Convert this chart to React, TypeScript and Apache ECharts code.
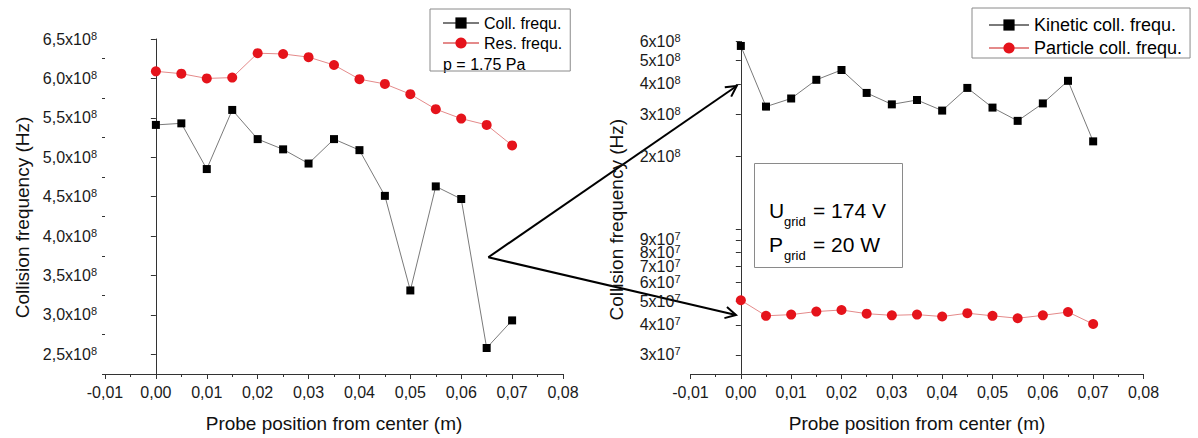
import React, { useEffect, useRef } from "react";
import * as echarts from "echarts";

const FONT = "'Liberation Sans', Arial, Helvetica, sans-serif";

// Probe positions (m)
const positions = [0, 0.005, 0.01, 0.015, 0.02, 0.025, 0.03, 0.035, 0.04, 0.045, 0.05, 0.055, 0.06, 0.065, 0.07];

// Left panel (Hz)
const collFreq = [5.41e8, 5.43e8, 4.85e8, 5.6e8, 5.23e8, 5.1e8, 4.92e8, 5.23e8, 5.09e8, 4.51e8, 3.31e8, 4.63e8, 4.47e8, 2.58e8, 2.93e8];
const resFreq = [6.09e8, 6.06e8, 6.0e8, 6.01e8, 6.32e8, 6.31e8, 6.27e8, 6.17e8, 5.99e8, 5.93e8, 5.8e8, 5.61e8, 5.49e8, 5.41e8, 5.15e8];

// Right panel (Hz, log scale)
const kineticFreq = [5.75e8, 3.22e8, 3.48e8, 4.16e8, 4.57e8, 3.67e8, 3.29e8, 3.43e8, 3.1e8, 3.85e8, 3.19e8, 2.81e8, 3.32e8, 4.12e8, 2.31e8];
const particleFreq = [5.06e7, 4.36e7, 4.41e7, 4.54e7, 4.61e7, 4.45e7, 4.38e7, 4.41e7, 4.33e7, 4.47e7, 4.36e7, 4.26e7, 4.38e7, 4.52e7, 4.03e7];

// Tick values
const leftYTicks = [2.5e8, 3.0e8, 3.5e8, 4.0e8, 4.5e8, 5.0e8, 5.5e8, 6.0e8, 6.5e8];
const leftYMinorTicks = [2.25e8, 2.75e8, 3.25e8, 3.75e8, 4.25e8, 4.75e8, 5.25e8, 5.75e8, 6.25e8];
const rightYTicks = [3e7, 4e7, 5e7, 6e7, 7e7, 8e7, 9e7, 1e8, 2e8, 3e8, 4e8, 5e8, 6e8];
const rightYLabelTicks = [3e7, 4e7, 5e7, 6e7, 7e7, 8e7, 9e7, 2e8, 3e8, 4e8, 5e8, 6e8];

const LEFT_MIN = 2.25e8;
const LEFT_MAX = 6.5e8;
const RIGHT_MIN = 2.5e7;
const RIGHT_MAX = 6e8;

const AXIS_COLOR = "#333";
const LABEL_COLOR = "#1a1a1a";

function xFormatter(v: number) {
  const r = Math.round(v * 100) / 100;
  return (r === 0 ? 0 : r).toFixed(2).replace(".", ",");
}

function leftYFormatter(v: number) {
  const m = (v / 1e8).toFixed(1).replace(".", ",");
  return `{m|${m}x10}{s|8}`;
}

function rightYFormatter(lv: number) {
  const exp = Math.floor(lv + 1e-9);
  const mant = Math.round(Math.pow(10, lv - exp));
  return `{m|${mant}x10}{s|${exp}}`;
}

const supRich = {
  m: { fontSize: 16, lineHeight: 18, color: LABEL_COLOR, fontFamily: FONT },
  s: { fontSize: 11, lineHeight: 10, color: LABEL_COLOR, fontFamily: FONT, verticalAlign: "top" },
};

function makeXAxis(gridIndex: number) {
  return {
    type: "value",
    gridIndex,
    min: -0.01,
    max: 0.08,
    interval: 0.01,
    axisLine: { show: true, onZero: false, lineStyle: { color: AXIS_COLOR, width: 1 } },
    axisTick: { show: true, length: 5, inside: false, lineStyle: { color: AXIS_COLOR } },
    minorTick: { show: true, splitNumber: 2, length: 3, lineStyle: { color: AXIS_COLOR } },
    splitLine: { show: false },
    minorSplitLine: { show: false },
    axisLabel: { formatter: xFormatter, fontSize: 16, color: LABEL_COLOR, margin: 10, fontFamily: FONT },
    name: "Probe position from center (m)",
    nameLocation: "middle",
    nameGap: 40,
    nameTextStyle: { fontSize: 19, color: "#111", fontFamily: FONT },
  };
}

function arrow(x1: number, y1: number, x2: number, y2: number) {
  const a = Math.atan2(y2 - y1, x2 - x1);
  const L = 12;
  const s = 0.49;
  return [
    { type: "line", shape: { x1, y1, x2, y2 }, style: { stroke: "#000", lineWidth: 2 } },
    {
      type: "polyline",
      shape: {
        points: [
          [x2 - L * Math.cos(a - s), y2 - L * Math.sin(a - s)],
          [x2, y2],
          [x2 - L * Math.cos(a + s), y2 - L * Math.sin(a + s)],
        ],
      },
      style: { stroke: "#000", lineWidth: 2, fill: "none" },
    },
  ];
}

function txt(text: string, x: number, y: number, fontSize: number) {
  return {
    type: "text",
    x,
    y,
    style: { text, fontSize, fontFamily: FONT, fill: "#000", align: "left", verticalAlign: "middle" },
  };
}

export default function App() {
  const ref = useRef<HTMLDivElement>(null);

  useEffect(() => {
    if (!ref.current) return;
    const chart = echarts.init(ref.current, undefined, { renderer: "svg" });

    const option: any = {
      animation: false,
      backgroundColor: "#fff",
      grid: [
        { left: 105, top: 39, width: 458, height: 340.5, containLabel: false },
        { left: 690.5, top: 41.5, width: 453, height: 338, containLabel: false },
      ],
      xAxis: [makeXAxis(0), makeXAxis(1)],
      yAxis: [
        {
          type: "value",
          gridIndex: 0,
          min: LEFT_MIN,
          max: LEFT_MAX,
          axisLine: { show: true, lineStyle: { color: AXIS_COLOR, width: 1 } },
          axisTick: { show: true, length: 5, customValues: leftYTicks, lineStyle: { color: AXIS_COLOR } },
          axisLabel: { customValues: leftYTicks, formatter: leftYFormatter, rich: supRich, margin: 8 },
          splitLine: { show: false },
          name: "Collision frequency (Hz)",
          nameLocation: "middle",
          nameGap: 73,
          nameTextStyle: { fontSize: 19, color: "#111", fontFamily: FONT, padding: [0, 22, 0, 0] },
        },
        {
          type: "value",
          gridIndex: 0,
          position: "left",
          min: LEFT_MIN,
          max: LEFT_MAX,
          axisLine: { show: false },
          axisTick: { show: true, length: 3, customValues: leftYMinorTicks, lineStyle: { color: AXIS_COLOR } },
          axisLabel: { show: false },
          splitLine: { show: false },
        },
        {
          type: "value",
          gridIndex: 1,
          min: Math.log10(RIGHT_MIN),
          max: Math.log10(RIGHT_MAX),
          axisLine: { show: true, lineStyle: { color: AXIS_COLOR, width: 1 } },
          axisTick: { show: true, length: 5, customValues: rightYTicks.map((v) => Math.log10(v)), lineStyle: { color: AXIS_COLOR } },
          axisLabel: {
            customValues: rightYLabelTicks.map((v) => Math.log10(v)),
            formatter: rightYFormatter,
            rich: supRich,
            margin: 10,
          },
          splitLine: { show: false },
          name: "Collision frequency (Hz)",
          nameLocation: "middle",
          nameGap: 65,
          nameTextStyle: { fontSize: 19, color: "#111", fontFamily: FONT, padding: [0, 24, 0, 0] },
        },
      ],
      legend: [
        {
          data: ["Coll. frequ.", "Res. frequ."],
          orient: "vertical",
          left: 430,
          top: 9,
          padding: [6, 8, 20, 12],
          itemWidth: 36,
          itemHeight: 14,
          itemGap: 4,
          borderColor: "#8a8a8a",
          borderWidth: 1,
          selectedMode: false,
          textStyle: { fontSize: 16, color: "#000", fontFamily: FONT },
        },
        {
          data: ["Kinetic coll. frequ.", "Particle coll. frequ."],
          orient: "vertical",
          left: 972,
          top: 8,
          padding: [8, 8, 1, 16],
          itemWidth: 40,
          itemHeight: 14,
          itemGap: 5,
          borderColor: "#8a8a8a",
          borderWidth: 1,
          selectedMode: false,
          textStyle: { fontSize: 18, color: "#000", fontFamily: FONT },
        },
      ],
      series: [
        {
          name: "Coll. frequ.",
          type: "line",
          xAxisIndex: 0,
          yAxisIndex: 0,
          data: positions.map((x, i) => [x, collFreq[i]]),
          symbol: "rect",
          symbolSize: 8,
          itemStyle: { color: "#000" },
          lineStyle: { color: "#7a7a7a", width: 1 },
        },
        {
          name: "Res. frequ.",
          type: "line",
          xAxisIndex: 0,
          yAxisIndex: 0,
          data: positions.map((x, i) => [x, resFreq[i]]),
          symbol: "circle",
          symbolSize: 10,
          itemStyle: { color: "#e5131b" },
          lineStyle: { color: "#e48a8a", width: 1 },
        },
        {
          name: "Kinetic coll. frequ.",
          type: "line",
          xAxisIndex: 1,
          yAxisIndex: 2,
          data: positions.map((x, i) => [x, Math.log10(kineticFreq[i])]),
          symbol: "rect",
          symbolSize: 8,
          itemStyle: { color: "#000" },
          lineStyle: { color: "#7a7a7a", width: 1 },
        },
        {
          name: "Particle coll. frequ.",
          type: "line",
          xAxisIndex: 1,
          yAxisIndex: 2,
          data: positions.map((x, i) => [x, Math.log10(particleFreq[i])]),
          symbol: "circle",
          symbolSize: 10,
          itemStyle: { color: "#e5131b" },
          lineStyle: { color: "#e48a8a", width: 1 },
        },
      ],
      graphic: {
        elements: [
          txt("p = 1.75 Pa", 443, 64, 16),
          ...arrow(488.3, 257.3, 736.7, 86),
          ...arrow(488.3, 257.3, 736, 315),
          {
            type: "rect",
            shape: { x: 754.5, y: 163.5, width: 148, height: 104 },
            style: { stroke: "#8a8a8a", lineWidth: 1, fill: "none" },
          },
          txt("U", 769, 210, 21),
          txt("grid", 784, 221.5, 13),
          txt("= 174 V", 813, 210, 21),
          txt("P", 769, 244.5, 21),
          txt("grid", 784, 255, 13),
          txt("= 20 W", 813, 244.5, 21),
        ],
      },
    };

    chart.setOption(option);
    return () => chart.dispose();
  }, []);

  return (
    <div
      ref={ref}
      style={{ position: "fixed", left: 0, top: 0, width: 1198, height: 438, background: "#fff" }}
    />
  );
}
